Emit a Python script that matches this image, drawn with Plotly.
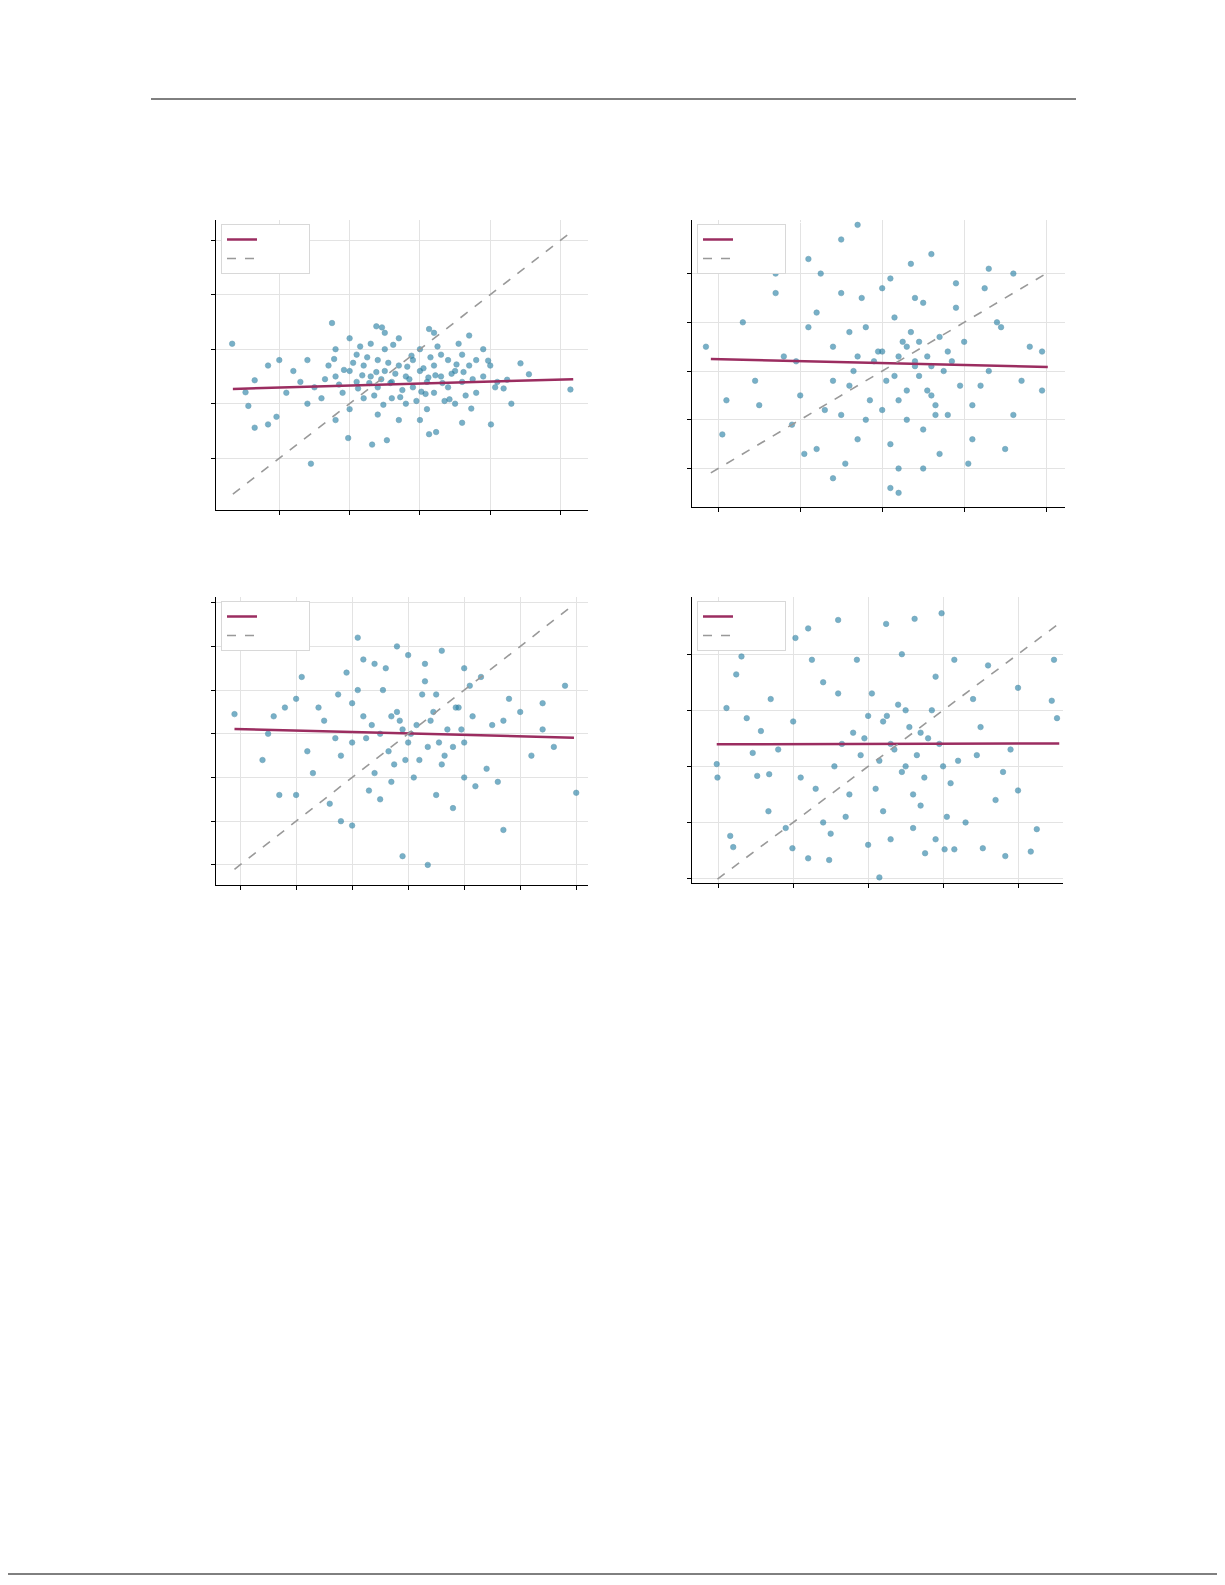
import plotly.graph_objects as go

# ---------------- data ----------------
p1_x = [-2.67,-1.55,-2.35,2.14,1.43,1.55,1.30,1.01,-1.25,-0.62,-0.54,0.13,0.70,0.97,1.19,-0.68,-1.02,-0.47,0.13,0.23,-2.16,-2.44,-2.48,-2.35,-2.16,-2.04,0.60,0.73,1.24,1.07,
        -1.8,-1.6,-1.5,-1.4,-1.3,-1.2,-1.2,-1.1,-1.0,-1.0,-0.9,-0.9,-0.8,-0.8,-0.7,-0.7,-0.6,-0.6,-0.6,-0.5,-0.5,-0.4,-0.4,-0.3,-0.3,-0.2,-0.2,-0.1,-0.1,0.0,0.0,0.1,0.1,0.2,0.2,0.3,0.3,0.4,0.4,0.5,0.5,0.6,0.6,0.7,0.8,0.8,0.9,1.0,-1.9,-1.7,
        -0.35,-0.15,-0.45,0.05,-0.25,0.15,-0.55,-0.75,0.35,-0.95,0.25,-0.05,0.45,-0.65,0.65,-1.15,0.75,-1.35,-0.85,0.55,-0.3,0.0,-1.0,-0.5,0.2,0.9,1.1,-2.0,-1.6,-1.2,
        -0.42,-0.18,0.08,-0.62,0.32,-0.88,0.52,-1.08,0.12,-0.28,-0.52,0.42,-0.72,0.22,-0.12,0.62,-1.22,-0.38,0.02,-0.82]
p1_y = [0.10,-2.10,-1.44,-0.74,-0.26,-0.46,-1.00,-1.38,0.48,0.42,0.40,0.37,0.25,-0.21,-0.72,-1.75,-1.63,-1.67,-1.56,-1.52,-1.38,-1.04,-0.79,-0.57,-0.30,-1.24,-1.35,-1.09,-0.56,-0.70,
        -0.4,-0.2,-0.7,-0.9,-0.3,-0.5,0.0,-0.8,-0.4,-1.1,-0.1,-0.6,-0.3,-0.9,0.1,-0.5,-0.2,-0.7,-1.2,-0.4,0.0,-0.6,-0.9,-0.3,0.2,-0.5,-1.0,-0.2,-0.7,-0.4,0.0,-0.6,-1.1,-0.3,-0.8,-0.1,-0.5,-0.7,-0.2,-0.4,-1.0,-0.1,-0.6,-0.3,-0.8,-0.2,-0.5,-0.3,-0.8,-0.6,
        -0.45,-0.55,-0.25,-0.35,-0.75,-0.15,-0.55,-0.15,-0.95,-0.25,0.05,-0.95,-0.45,-0.85,-0.85,-0.65,-0.55,-0.55,0.05,0.1,-1.3,-1.3,0.2,0.3,0.3,0.0,-0.6,-0.2,-1.0,-1.3,
        -0.62,-0.32,-0.82,-0.42,-0.62,-0.72,-0.28,-0.38,-0.52,-0.88,-1.02,-0.92,-0.62,-0.48,-0.12,-0.42,-0.18,0.08,-0.78,-0.48]

p2_x = [-2.15,-1.9,-1.95,-1.7,-1.5,-1.4,-1.3,-0.9,-0.5,-0.3,0.2,0.1,1.5,1.6,1.95,1.95,1.8,1.1,-0.8,-0.6,0.5,1.3,
        -1.2,-1.0,-0.8,-0.6,-0.4,-0.2,0.0,0.2,0.4,0.6,0.8,1.0,1.2,1.4,-1.1,-0.9,-0.7,-0.5,-0.3,-0.1,0.1,0.3,0.5,0.7,0.9,1.1,1.3,
        -0.6,-0.4,-0.2,0.0,0.2,0.4,0.6,0.8,0.25,0.45,0.05,0.35,0.55,-0.15,0.15,0.65,0.85,-0.35,0.3,0.5,
        -1.3,-0.95,-0.45,0.1,0.7,1.25,1.6,-1.55,-0.75,0.0,0.9,1.45,-0.25,0.35,1.05,-1.05,0.6,0.2,-0.5,1.7,
        0.4,0.3,0.55,0.15,0.75,-0.05,0.95,-0.3,0.45,0.65]
p2_y = [0.5,-0.6,-1.3,1.0,-0.7,2.3,2.0,2.3,2.7,3.0,-2.5,-2.4,-1.6,2.0,0.4,-0.4,0.5,-1.4,-1.6,-2.2,-2.0,2.1,
        0.3,-0.5,1.2,-0.2,0.8,-1.0,0.4,-0.6,1.5,0.1,-0.9,0.6,-0.3,1.0,-1.1,0.9,-0.8,1.6,-1.4,0.2,1.9,-0.4,-1.2,0.7,1.3,-0.7,0.0,
        0.5,-0.3,0.9,-0.8,0.3,0.1,-0.5,0.4,0.6,-0.1,-0.2,0.8,0.3,-0.6,1.1,-0.9,0.2,0.0,-1.0,1.4,
        1.6,-1.7,-1.9,-1.5,-1.7,1.7,-0.9,-0.2,2.0,1.7,1.8,0.9,1.5,2.2,-1.9,0.2,2.4,-2.0,-0.9,-0.2,
        0.2,0.5,-0.4,-0.1,0.0,0.4,-0.3,0.3,0.6,-0.7]

p3_x = [-3.1,-2.3,-2.0,-1.2,-1.0,-0.1,0.35,1.7,2.8,3.0,2.4,-0.9,-1.9,-1.6,-0.2,1.0,-2.5,2.0,
        -1.5,-1.2,-0.9,-0.6,-0.3,0.0,0.3,0.6,0.9,1.2,1.5,-1.3,-1.0,-0.7,-0.4,-0.1,0.2,0.5,0.8,1.1,1.4,-1.8,1.8,-2.2,2.2,
        -0.5,-0.2,0.1,0.4,0.7,-0.8,1.0,-1.1,1.3,-0.35,0.25,0.55,-0.65,0.85,-0.05,0.15,-0.45,
        -2.6,-2.0,-1.4,-0.8,0.0,0.8,1.6,2.4,-1.7,-0.5,0.5,1.7,-1.0,1.0,0.3,-0.3,-2.4,2.6,0.6,-0.6,
        0.05,-0.15,0.35,-0.25,0.45,-0.75,0.95,-1.25,1.15,0.65]
p3_y = [0.45,-1.4,-1.4,-2.0,-2.1,-2.8,-3.0,-2.2,1.1,-1.35,0.1,2.2,1.3,0.6,2.0,1.5,0.0,0.5,
        0.3,-0.5,1.0,-0.9,0.4,-0.2,1.2,-0.7,0.6,-1.2,0.2,-0.1,0.7,-1.3,1.5,0.1,-0.6,0.9,-0.3,1.1,-0.8,-0.4,0.8,0.6,-0.5,
        0.0,0.5,-1.0,0.3,0.1,0.4,-0.2,1.4,1.3,-0.4,0.9,-0.2,0.2,0.6,-0.6,0.2,1.0,
        -0.6,0.8,-1.6,1.7,1.8,-1.7,-1.1,0.7,-0.9,-1.5,-1.4,0.3,-0.2,-1.0,1.6,-1.1,0.4,-0.3,1.9,1.6,
        0.0,0.3,-0.3,-0.7,0.5,-0.1,0.1,0.9,0.4,-0.5]

p4_x = [-2.02,-2.01,-1.84,-1.8,-1.69,-1.76,-1.89,-1.62,-0.4,-0.8,-0.97,0.24,0.62,0.98,0.15,2.48,2.45,2.52,2.17,1.83,1.53,2.25,2.0,2.0,-0.8,-0.52,-1.01,0.76,1.02,1.15,-1.33,-1.32,-1.48,-1.54,-1.43,
        -1.0,-0.7,-0.4,-0.1,0.2,0.5,0.8,1.1,1.4,1.7,-0.9,-0.6,-0.3,0.0,0.3,0.6,0.9,1.2,1.5,-1.2,1.8,-0.2,0.1,0.4,0.7,1.0,
        0.35,0.55,0.15,0.75,-0.05,0.95,0.45,0.25,0.65,-0.25,0.85,-0.45,1.05,0.05,
        -1.1,-0.5,0.0,0.6,1.3,1.6,-0.75,-0.15,0.45,1.15,-1.3,0.9,0.3,-0.6,1.9,0.7,0.2,-0.35,1.45,0.5]
p4_y = [0.04,-0.20,-1.24,-1.44,1.96,1.64,1.04,0.86,2.61,2.46,2.29,2.54,2.63,2.73,-1.98,1.9,1.17,0.86,-1.52,-1.6,-1.46,-1.12,-0.43,1.4,-1.64,-1.67,-1.46,-1.55,-1.48,-1.48,-0.8,-0.14,-0.17,0.24,0.63,
        0.8,-0.4,1.3,0.2,-0.8,1.0,0.5,-0.3,1.2,-0.6,-0.2,1.5,-0.9,0.9,0.4,-0.5,1.6,0.1,0.7,0.3,-0.1,0.6,-0.4,1.1,-0.7,0.0,
        0.3,0.7,0.1,-0.2,0.5,0.4,-0.1,0.9,0.2,-0.5,1.0,0.0,-0.9,1.3,
        -1.1,-1.2,-1.4,-1.1,-1.0,1.8,1.9,1.9,2.0,1.9,1.2,-1.3,-1.3,-1.0,0.3,0.6,0.8,0.4,0.2,0.0]

# fit lines: (x_start, x_end, intercept, slope); identity lines: (x_start, x_end)
fit_params = [(-2.66, 2.18, -0.63, 0.037), (-2.09, 2.02, 0.164, -0.041),
              (-3.10, 2.96, 0.008, -0.033), (-2.02, 2.55, 0.40, 0.003)]
diag_params = [(-2.66, 2.18), (-2.09, 2.02), (-3.10, 2.96), (-2.01, 2.53)]
x_ranges = [(-2.9, 2.39), (-2.32, 2.23), (-3.43, 3.21), (-2.35, 2.60)]
y_ranges = [(-2.95, 2.37), (-2.79, 3.10), (-3.46, 3.13), (-2.08, 3.02)]
x_ticks = [[-2,-1,0,1,2], [-2,-1,0,1,2], [-3,-2,-1,0,1,2,3], [-2,-1,0,1,2]]
y_ticks = [[-2,-1,0,1,2], [-2,-1,0,1,2], [-3,-2,-1,0,1,2,3], [-2,-1,0,1,2]]
titles = ["model_a vs model_b", "model_a vs model_c", "model_b vs model_c", "model_c vs model_d"]

W, H = 1225, 1585
boxes = [(208, 580, 212, 502), (684, 1057, 212, 499), (208, 580, 589, 877), (684, 1055, 589, 875)]
pts = [(p1_x, p1_y), (p2_x, p2_y), (p3_x, p3_y), (p4_x, p4_y)]

fig = go.Figure()
layout = dict(width=W, height=H, margin=dict(l=0, r=0, t=0, b=0),
              paper_bgcolor="white", plot_bgcolor="white", showlegend=True,
              font=dict(family="DejaVu Sans", color="white"))
for i in range(4):
    n = "" if i == 0 else str(i + 1)
    xa, ya = "x" + n, "y" + n
    x0, x1, y0, y1 = boxes[i]
    layout["xaxis" + n] = dict(domain=[x0 / W, x1 / W], range=list(x_ranges[i]), anchor=ya,
                               tickvals=x_ticks[i], showgrid=True, gridcolor="#e3e3e3", zeroline=False,
                               showline=True, linecolor="black", linewidth=1.3, ticks="outside",
                               ticklen=4, tickcolor="black", tickfont=dict(color="white", size=10))
    layout["yaxis" + n] = dict(domain=[1 - y1 / H, 1 - y0 / H], range=list(y_ranges[i]), anchor=xa,
                               tickvals=y_ticks[i], showgrid=True, gridcolor="#e3e3e3", zeroline=False,
                               showline=True, linecolor="black", linewidth=1.3, ticks="outside",
                               ticklen=4, tickcolor="black", tickfont=dict(color="white", size=10))
    lg = "legend" + n
    layout[lg] = dict(x=(x0 + 5) / W, y=1 - (y0 + 4) / H, xanchor="left", yanchor="top",
                      bgcolor="white", bordercolor="#d8d8d8", borderwidth=1, itemwidth=30,
                      font=dict(color="white", size=6), tracegroupgap=0)
    px, py = pts[i]
    fig.add_trace(go.Scatter(x=px, y=py, mode="markers", xaxis=xa, yaxis=ya, showlegend=False,
                             marker=dict(size=5.5, color="#2f86ab", opacity=0.65,
                                         line=dict(width=0.6, color="#24708f"))))
    fx0, fx1, b, m = fit_params[i]
    fig.add_trace(go.Scatter(x=[fx0, fx1], y=[b + m * fx0, b + m * fx1], mode="lines",
                             xaxis=xa, yaxis=ya, name="Regression fit", legend=lg,
                             line=dict(color="#9b2d60", width=2.5)))
    d0, d1 = diag_params[i]
    fig.add_trace(go.Scatter(x=[d0, d1], y=[d0, d1], mode="lines", xaxis=xa, yaxis=ya,
                             name="y = x", legend=lg,
                             line=dict(color="#999999", width=1.6, dash="dash")))
    layout.setdefault("annotations", []).append(dict(
        text=titles[i], x=(x0 + x1) / 2 / W, y=1 - (y0 - 12) / H, xref="paper", yref="paper",
        showarrow=False, font=dict(color="white", size=11)))

layout["shapes"] = [
    dict(type="line", xref="paper", yref="paper", x0=143 / W, x1=1068 / W, y0=1 - 91 / H, y1=1 - 91 / H,
         line=dict(color="black", width=1)),
    dict(type="line", xref="paper", yref="paper", x0=0, x1=1, y0=1 - 1566 / H, y1=1 - 1566 / H,
         line=dict(color="black", width=1)),
]
fig.update_layout(**layout)
fig.write_html("out.html")
